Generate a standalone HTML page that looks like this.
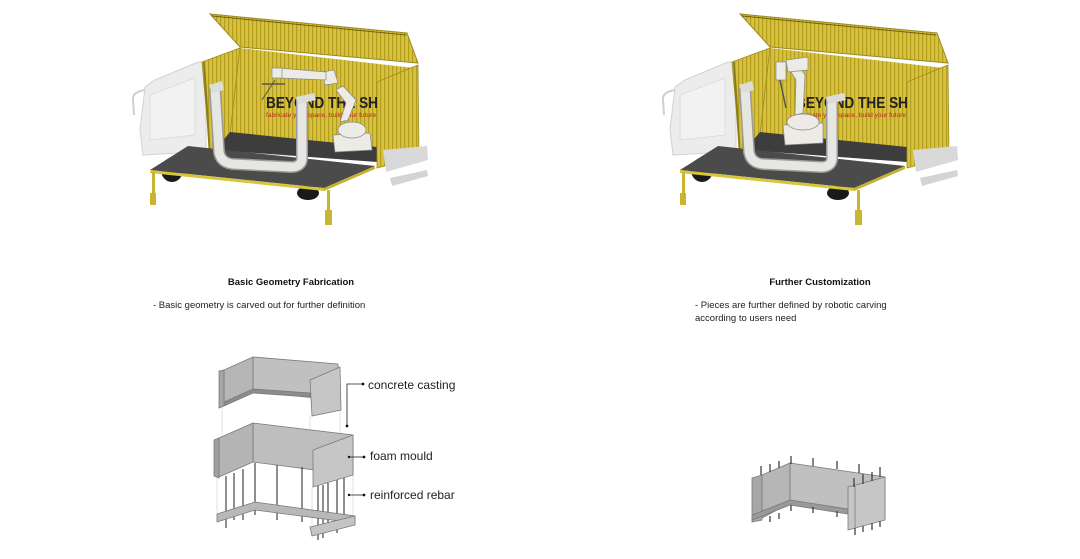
<!DOCTYPE html>
<html><head><meta charset="utf-8">
<style>
html,body{margin:0;padding:0;background:#fff;}
svg{display:block;}
text{font-family:"Liberation Sans",sans-serif;}
</style></head>
<body>
<svg width="1080" height="559" viewBox="0 0 1080 559" xmlns="http://www.w3.org/2000/svg">
<defs>
<pattern id="rib" width="4" height="10" patternUnits="userSpaceOnUse">
<rect width="4" height="10" fill="#d8c23c"/>
<rect x="0" width="1.2" height="10" fill="#b39e22"/>
</pattern>
<g id="truck">
  <polygon points="145,87 155,80 198,62 206,62 206,152 197,152 143,155 140,130" fill="#ececec" stroke="#d2d2d2" stroke-width="1"/>
  <polygon points="150,95 195,78 195,135 150,140" fill="#f2f2f2" stroke="#d9d9d9" stroke-width="0.8"/>
  <path d="M145,90 Q132,92 133,100 L134,115" fill="none" stroke="#cfcfcf" stroke-width="2"/>
  <polygon points="210,14 407,33 418,63 240,47" fill="url(#rib)" stroke="#9b8a20" stroke-width="1"/>
  <line x1="212" y1="16" x2="406" y2="35" stroke="#6d6010" stroke-width="1"/>
  <polygon points="240,48 414,68 377,82 377,150 230,134" fill="url(#rib)"/>
  <polygon points="202,62 240,48 230,134 210,152" fill="url(#rib)" stroke="#9b8a20" stroke-width="0.8"/>
  <line x1="204" y1="62" x2="211" y2="172" stroke="#8d7d18" stroke-width="2"/>
  <polygon points="230,132 377,147 377,162 215,150" fill="#3d3d3d"/>
  <polygon points="377,82 418,65 419,157 377,168" fill="url(#rib)" stroke="#9b8a20" stroke-width="0.8"/>
  <text x="266" y="108" font-size="16" font-weight="bold" fill="#222" textLength="112" lengthAdjust="spacingAndGlyphs">BEYOND THE SH</text>
  <text x="266" y="117" font-size="6" fill="#c0281e" textLength="110" lengthAdjust="spacingAndGlyphs">fabricate your space, build your future</text>
  <polygon points="383,150 427,146 428,160 386,172" fill="#d9d9d9"/>
  <polygon points="390,178 427,170 428,176 392,186" fill="#d4d4d4"/>
  <ellipse cx="172" cy="170" rx="11" ry="12" fill="#1a1a1a"/>
  <ellipse cx="308" cy="193" rx="11" ry="7" fill="#1a1a1a"/>
  <polygon points="150,170 188,146 375,166 324,188" fill="#4b4b4b"/>
  <polygon points="150,170 324,188 324,191 150,173" fill="#d9c53a"/>
  <polygon points="324,188 375,166 375,169 324,191" fill="#c5b22e"/>
  <rect x="152" y="172" width="3" height="25" fill="#c9b630"/>
  <rect x="150" y="193" width="6" height="12" fill="#c9b630"/>
  <rect x="327" y="190" width="3" height="22" fill="#c9b630"/>
  <rect x="325" y="210" width="7" height="15" fill="#c9b630"/>
  <path d="M215,88 L219,152 Q221,163 233,164 L291,167 Q303,167 302,156 L302,97" fill="none" stroke="#9a9a9a" stroke-width="12" stroke-linejoin="round"/>
  <path d="M215,88 L219,152 Q221,163 233,164 L291,167 Q303,167 302,156 L302,97" fill="none" stroke="#e6e6e2" stroke-width="9" stroke-linejoin="round"/>
  <polygon points="209,85 222,81 224,90 212,93" fill="#dcdcd8"/>
  <polygon points="296,97 314,93 316,100 298,104" fill="#dcdcd8"/>
</g>
</defs>

<use href="#truck"/>
<use href="#truck" x="530"/>

<g fill="#ecebe6" stroke="#8a8a8a" stroke-width="0.7">
  <polygon points="333,135 370,133 372,150 335,152"/>
  <ellipse cx="352" cy="130" rx="14" ry="8"/>
  <polygon points="340,122 348,120 356,100 343,86 336,90 346,103"/>
  <polygon points="322,72 334,70 338,83 325,85"/>
  <polygon points="278,68 326,72 326,80 279,78"/>
  <rect x="272" y="68" width="10" height="10"/>
</g>
<line x1="275" y1="80" x2="262" y2="100" stroke="#555" stroke-width="1"/>
<line x1="262" y1="84" x2="285" y2="84" stroke="#555" stroke-width="1.5"/>

<g fill="#ecebe6" stroke="#8a8a8a" stroke-width="0.7">
  <polygon points="783,125 823,123 823,143 785,145"/>
  <ellipse cx="803" cy="122" rx="16" ry="8"/>
  <polygon points="795,115 803,113 805,75 798,65 790,70 796,80"/>
  <polygon points="786,60 808,57 808,70 788,72"/>
  <rect x="776" y="62" width="10" height="18"/>
</g>
<line x1="780" y1="80" x2="786" y2="108" stroke="#555" stroke-width="1.5"/>

<text x="291" y="285" font-size="9.5" font-weight="bold" text-anchor="middle" fill="#111">Basic Geometry Fabrication</text>
<text x="153" y="308" font-size="9.5" fill="#222">- Basic geometry is carved out for further definition</text>
<text x="820" y="285" font-size="9.5" font-weight="bold" text-anchor="middle" fill="#111">Further Customization</text>
<text x="695" y="308" font-size="9.5" fill="#222">- Pieces are further defined by robotic carving</text>
<text x="695" y="321" font-size="9.5" fill="#222">according to users need</text>

<g stroke="#cfcfcf" stroke-width="0.6">
  <line x1="222" y1="405" x2="222" y2="440"/>
  <line x1="310" y1="415" x2="310" y2="450"/>
  <line x1="340" y1="410" x2="340" y2="436"/>
  <line x1="217" y1="475" x2="217" y2="515"/>
  <line x1="312" y1="487" x2="312" y2="525"/>
  <line x1="353" y1="475" x2="353" y2="515"/>
</g>
<!-- concrete casting -->
<g stroke="#7a7a7a" stroke-width="0.8">
  <polygon points="253,357 338,364 338,400 253,392" fill="#c0c0c0"/>
  <polygon points="224,370 253,357 253,392 224,405" fill="#b6b6b6"/>
  <polygon points="224,402 253,389 310,393 310,397 253,393 224,406" fill="#8c8c8c"/>
  <polygon points="219,371 224,370 224,406 219,408" fill="#a5a5a5"/>
  <polygon points="310,380 340,367 341,410 312,416" fill="#c6c6c6"/>
</g>
<!-- foam mould -->
<g stroke="#7a7a7a" stroke-width="0.8">
  <polygon points="253,423 353,435 353,475 253,462" fill="#bebebe"/>
  <polygon points="219,438 253,423 253,462 219,477" fill="#b4b4b4"/>
  <polygon points="214,440 219,438 219,478 214,476" fill="#a0a0a0"/>
  <polygon points="313,450 353,435 353,475 313,487" fill="#c6c6c6"/>
</g>
<g stroke="#333" stroke-width="1.1">
  <line x1="226" y1="476" x2="226" y2="528"/>
  <line x1="234" y1="473" x2="234" y2="520"/>
  <line x1="243" y1="469" x2="243" y2="520"/>
  <line x1="255" y1="463" x2="255" y2="515"/>
  <line x1="277" y1="465" x2="277" y2="520"/>
  <line x1="302" y1="467" x2="302" y2="522"/>
  <line x1="318" y1="486" x2="318" y2="540"/>
  <line x1="323" y1="485" x2="323" y2="538"/>
  <line x1="328" y1="483" x2="328" y2="532"/>
  <line x1="337" y1="480" x2="337" y2="533"/>
  <line x1="344" y1="478" x2="344" y2="528"/>
</g>
<g stroke="#7a7a7a" stroke-width="0.8">
  <polygon points="217,514 255,502 355,516 355,523 255,510 217,522" fill="#b8b8b8"/>
  <polygon points="310,527 355,516 355,525 312,536" fill="#c4c4c4"/>
</g>
<g stroke="#222" stroke-width="0.8" fill="none">
  <polyline points="347,426 347,384 363,384"/>
  <line x1="349" y1="457" x2="364" y2="457"/>
  <line x1="349" y1="495" x2="364" y2="495"/>
</g>
<g fill="#111">
  <circle cx="363" cy="384" r="1.4"/><circle cx="347" cy="426" r="1.4"/>
  <circle cx="349" cy="457" r="1.2"/><circle cx="364" cy="457" r="1.4"/>
  <circle cx="349" cy="495" r="1.2"/><circle cx="364" cy="495" r="1.4"/>
</g>
<text x="368" y="389" font-size="12" fill="#222">concrete casting</text>
<text x="370" y="460" font-size="12" fill="#222">foam mould</text>
<text x="370" y="499" font-size="12" fill="#222">reinforced rebar</text>

<!-- bottom right block -->
<g stroke="#7a7a7a" stroke-width="0.8">
  <polygon points="790,463 885,477 885,517 790,503" fill="#c0c0c0"/>
  <polygon points="762,475 790,463 790,503 762,518" fill="#b6b6b6"/>
  <polygon points="752,478 762,475 762,520 752,522" fill="#a7a7a7"/>
  <polygon points="752,515 790,500 848,509 848,514 790,505 752,520" fill="#999"/>
  <polygon points="848,487 885,477 885,520 848,530" fill="#c6c6c6"/>
  <line x1="855" y1="486" x2="855" y2="528"/>
</g>
<g stroke="#333" stroke-width="1.2">
  <line x1="761" y1="466" x2="761" y2="475"/><line x1="770" y1="464" x2="770" y2="472"/>
  <line x1="779" y1="461" x2="779" y2="468"/><line x1="791" y1="456" x2="791" y2="464"/>
  <line x1="813" y1="458" x2="813" y2="466"/><line x1="837" y1="461" x2="837" y2="469"/>
  <line x1="859" y1="464" x2="859" y2="473"/><line x1="880" y1="467" x2="880" y2="477"/>
  <line x1="854" y1="478" x2="854" y2="487"/><line x1="863" y1="474" x2="863" y2="484"/>
  <line x1="872" y1="472" x2="872" y2="481"/>
  <line x1="770" y1="516" x2="770" y2="522"/><line x1="779" y1="513" x2="779" y2="519"/>
  <line x1="791" y1="505" x2="791" y2="511"/><line x1="813" y1="507" x2="813" y2="513"/>
  <line x1="837" y1="511" x2="837" y2="517"/>
  <line x1="855" y1="528" x2="855" y2="535"/><line x1="863" y1="526" x2="863" y2="532"/>
  <line x1="872" y1="523" x2="872" y2="530"/><line x1="880" y1="521" x2="880" y2="527"/>
</g>
</svg>
</body></html>
